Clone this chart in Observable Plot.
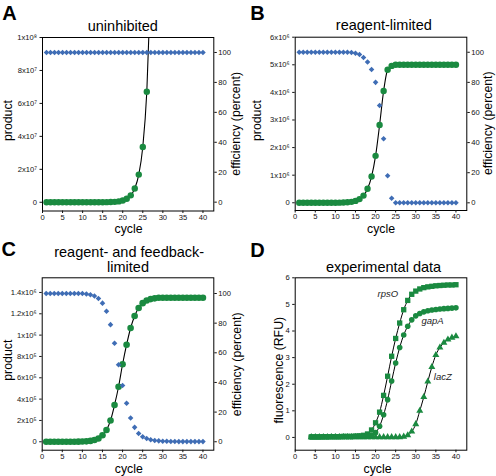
<!DOCTYPE html>
<html><head><meta charset="utf-8">
<script src="https://cdn.jsdelivr.net/npm/d3@7"></script>
<script src="https://cdn.jsdelivr.net/npm/@observablehq/plot@0.6"></script>
<style>
body{margin:0;background:#fff;}
#chart{position:relative;width:496px;height:476px;overflow:hidden;background:#fff;}
#chart svg{position:absolute;font-family:"Liberation Sans",Arial,Helvetica,sans-serif !important;}
</style></head><body><div id="chart"></div>
<script>
// ---------- data ----------
const cycles = [1,2,3,4,5,6,7,8,9,10,11,12,13,14,15,16,17,18,19,20,21,22,23,24,25,26,27,28,29,30,31,32,33,34,35,36,37,38,39,40];
const cyclesD = [4,5,6,7,8,9,10,11,12,13,14,15,16,17,18,19,20,21,22,23,24,25,26,27,28,29,30,31,32,33,34,35,36,37,38,39,40];
const xTicks = [0,5,10,15,20,25,30,35,40];
const effTicks = [0,20,40,60,80,100];

// A: uninhibited
const productA = [2,4,8,16,32,64,128,256,512,1024,2048,4096,8192,16384,32768,65536,131072,262144,524288,1048576,2097152,4194304,8388608,16777216,33554432,67108864];
const fitA = [2,4,8,16,32,64,128,256,512,1024,2048,4096,8192,16384,32768,65536,131072,262144,524288,1048576,2097152,4194304,8388608,16777216,33554432,67108864,134217728];
const efficiencyA = [100,100,100,100,100,100,100,100,100,100,100,100,100,100,100,100,100,100,100,100,100,100,100,100,100,100,100,100,100,100,100,100,100,100,100,100,100,100,100,100];
const ticksA = [0,2e7,4e7,6e7,8e7,1e8];
const tickLabelsA = ["0","2x10\u2077","4x10\u2077","6x10\u2077","8x10\u2077","1x10\u2078"];

// B: reagent-limited
const productB = [4,8,16,33,66,130,260,520,1050,2100,4200,8400,17000,34000,67000,134000,260000,510000,950000,1700000,2820000,4050000,4820000,4960000,5000000,5000000,5000000,5000000,5000000,5000000,5000000,5000000,5000000,5000000,5000000,5000000,5000000,5000000,5000000,5000000];
const efficiencyB = [100,100,100,100,100,100,100,100,100,100,100,100,100,99.8,99.3,98.5,96.5,93.5,88.5,80,64.7,42.5,18,3,0,0,0,0,0,0,0,0,0,0,0,0,0,0,0,0];
const ticksB = [0,1e6,2e6,3e6,4e6,5e6,6e6];
const tickLabelsB = ["0","1x10\u2076","2x10\u2076","3x10\u2076","4x10\u2076","5x10\u2076","6x10\u2076"];

// C: reagent- and feedback-limited
const productC = [4,8,16,31,62,125,250,500,1000,2000,4000,8000,16000,31000,61000,110000,200000,345000,516000,727000,910000,1067000,1180000,1255000,1300000,1325000,1338000,1345000,1350000,1350000,1350000,1350000,1350000,1350000,1350000,1350000,1350000,1350000,1350000,1350000];
const efficiencyC = [100,100,100,100,100,100,100,100,100,100,99.7,99.2,98.3,96.6,93.5,88,79,66.5,52,38,26,16,9.7,5.6,3.4,2.2,1.4,0.9,0.6,0.4,0.3,0.2,0.2,0.1,0.1,0.1,0.1,0.1,0.1,0.1];
const ticksC = [0,2e5,4e5,6e5,8e5,1e6,1.2e6,1.4e6];
const tickLabelsC = ["0","2x10\u2075","4x10\u2075","6x10\u2075","8x10\u2075","1x10\u2076","1.2x10\u2076","1.4x10\u2076"];

// D: experimental data
const rpsO = [0.02,0.02,0.02,0.03,0.03,0.03,0.03,0.03,0.04,0.04,0.04,0.05,0.06,0.08,0.13,0.28,0.55,0.95,1.58,2.3,3.05,3.72,4.3,4.8,5.15,5.38,5.5,5.58,5.63,5.66,5.68,5.7,5.71,5.72,5.73,5.73,5.74];
const gapA = [0.02,0.02,0.02,0.02,0.02,0.03,0.03,0.03,0.03,0.03,0.03,0.04,0.04,0.04,0.05,0.08,0.18,0.42,0.85,1.42,2.12,2.8,3.38,3.85,4.18,4.42,4.57,4.66,4.72,4.76,4.79,4.81,4.83,4.84,4.85,4.86,4.87];
const lacZ = [0.01,0.01,0.01,0.01,0.01,0.01,0.01,0.01,0.01,0.01,0.01,0.01,0.01,0.01,0.01,0.01,0.01,0.01,0.01,0.01,0.01,0.01,0.01,0.03,0.08,0.22,0.5,1.0,1.52,2.1,2.65,3.1,3.38,3.56,3.68,3.75,3.8];
const ticksD = [0,1,2,3,4,5,6];
const geneNames = ["rpsO","gapA","lacZ"];
const geneLabelCycle = [25.6,31.4,34.5];
const geneLabelValue = [5.4,4.37,2.27];

// ---------- drawing ----------
const chart = document.getElementById("chart");
const FONT = '"Liberation Sans", Arial, Helvetica, sans-serif';
const GREEN = "#1a8a40", BLUE = "#3f6db5";
const XDOM = [0, 42.7];

function place(svg, left, top) {
  svg.style.position = "absolute";
  svg.style.left = left + "px";
  svg.style.top = top + "px";
  chart.appendChild(svg);
}
function base(m, ydom, marks) {
  return Plot.plot({
    width: 248, height: 238,
    marginLeft: m.mL, marginRight: m.mR, marginTop: m.mT, marginBottom: m.mB,
    style: {background: "transparent", fontFamily: FONT, fontSize: "7.6px", color: "#111", overflow: "visible"},
    x: {domain: XDOM, axis: null},
    y: {domain: ydom, axis: null},
    marks
  });
}
function txt(str, px, py, m, o = {}) {
  return Plot.text([str], {text: d => d, frameAnchor: "top-left", dx: px - m.mL, dy: py - m.mT,
    fontSize: 12.3, lineAnchor: "middle", textAnchor: "middle", fill: "#000", fontFamily: FONT, ...o});
}
const zip = (xs, ys) => ys.map((v, i) => ({c: xs[i], v}));
function leftAxes(ticks, labels) {
  const map = new Map(ticks.map((t, i) => [t, labels[i]]));
  return [
    Plot.frame({stroke: "#000", strokeWidth: 1}),
    Plot.axisX({ticks: xTicks, tickSize: 2.5, tickPadding: 1, label: null, fontFamily: FONT}),
    Plot.axisY({ticks, tickFormat: d => map.get(d), tickSize: 2.5, tickPadding: 3, label: null, fontFamily: FONT})
  ];
}
function effPlot(m, ydom, eff) {
  return base(m, ydom, [
    Plot.axisY({anchor: "right", ticks: effTicks, tickSize: 2.5, tickPadding: 2, label: null, fontFamily: FONT}),
    Plot.dot(zip(cycles, eff), {x: "c", y: "v", symbol: "diamond2", r: 2.5, fill: BLUE, stroke: "none"})
  ]);
}

// Panel A
const mA = {mL: 42, mR: 34.7, mT: 37, mB: 27.5};
place(base(mA, [-5.3e6, 1e8], [
  ...leftAxes(ticksA, tickLabelsA),
  Plot.line(zip(cycles, fitA), {x: "c", y: "v", curve: "monotone-x", stroke: "#000", strokeWidth: 1.1, clip: true}),
  Plot.dot(zip(cycles, productA), {x: "c", y: "v", r: 3.2, fill: GREEN, stroke: "none"}),
  txt("A", 1.7, 13, mA, {fontSize: 20, fontWeight: "bold", textAnchor: "start"}),
  txt("uninhibited", 122.3, 25.4, mA, {fontSize: 14.5}),
  txt("product", 8, 120, mA, {rotate: -90}),
  txt("efficiency (percent)", 236, 123.3, mA, {rotate: -90}),
  txt("cycle", 128, 228.5, mA)
]), 0, 0);
place(effPlot(mA, [-5.9, 110], efficiencyA), 0, 0);

// Panel B
const mB = {mL: 46.7, mR: 29.7, mT: 36.7, mB: 28};
place(base(mB, [-0.28e6, 6e6], [
  ...leftAxes(ticksB, tickLabelsB),
  Plot.line(zip(cycles, productB), {x: "c", y: "v", curve: "monotone-x", stroke: "#000", strokeWidth: 1.1}),
  Plot.dot(zip(cycles, productB), {x: "c", y: "v", r: 3.2, fill: GREEN, stroke: "none"}),
  txt("B", 1.7, 12.8, mB, {fontSize: 20, fontWeight: "bold", textAnchor: "start"}),
  txt("reagent-limited", 135.3, 24.8, mB, {fontSize: 14.5}),
  txt("product", 9, 120, mB, {rotate: -90}),
  txt("efficiency (percent)", 239.5, 122.7, mB, {rotate: -90}),
  txt("cycle", 132.5, 228.5, mB)
]), 248, 0);
place(effPlot(mB, [-5.1, 110], efficiencyB), 248, 0);

// Panel C
const mC = {mL: 41.7, mR: 34.7, mT: 39.3, mB: 26.3};
place(base(mC, [-0.079e6, 1.5375e6], [
  ...leftAxes(ticksC, tickLabelsC),
  Plot.line(zip(cycles, productC), {x: "c", y: "v", curve: "monotone-x", stroke: "#000", strokeWidth: 1.1}),
  Plot.dot(zip(cycles, productC), {x: "c", y: "v", r: 3.3, fill: GREEN, stroke: "none"}),
  txt("C", 1, 11.2, mC, {fontSize: 20, fontWeight: "bold", textAnchor: "start"}),
  txt("reagent- and feedback-", 128.7, 13.7, mC, {fontSize: 14.5}),
  txt("limited", 127.5, 28.8, mC, {fontSize: 14.5}),
  txt("product", 8, 121.7, mC, {rotate: -90}),
  txt("efficiency (percent)", 237, 125.8, mC, {rotate: -90}),
  txt("cycle", 128.3, 230.4, mC)
]), 0, 238);
place(effPlot(mC, [-5.7, 110.6], efficiencyC), 0, 238);

// Panel D
const mD = {mL: 46.7, mR: 29.7, mT: 39.3, mB: 26.3};
place(base(mD, [-0.48, 6], [
  ...leftAxes(ticksD, ticksD.map(String)),
  Plot.line(zip(cyclesD, rpsO), {x: "c", y: "v", curve: "monotone-x", stroke: "#000", strokeWidth: 1}),
  Plot.line(zip(cyclesD, gapA), {x: "c", y: "v", curve: "monotone-x", stroke: "#000", strokeWidth: 1}),
  Plot.line(zip(cyclesD, lacZ), {x: "c", y: "v", curve: "monotone-x", stroke: "#000", strokeWidth: 1}),
  Plot.dot(zip(cyclesD, lacZ), {x: "c", y: "v", symbol: "triangle", r: 2.6, fill: GREEN, stroke: "none"}),
  Plot.dot(zip(cyclesD, gapA), {x: "c", y: "v", symbol: "circle", r: 2.8, fill: GREEN, stroke: "none"}),
  Plot.dot(zip(cyclesD, rpsO), {x: "c", y: "v", symbol: "square", r: 3.0, fill: GREEN, stroke: "none"}),
  Plot.text([0], {x: i => geneLabelCycle[i], y: i => geneLabelValue[i], text: i => geneNames[i], textAnchor: "end", fontStyle: "italic", fontSize: 9.5, fill: "#222", fontFamily: FONT}),
  Plot.text([1, 2], {x: i => geneLabelCycle[i], y: i => geneLabelValue[i], text: i => geneNames[i], textAnchor: "start", fontStyle: "italic", fontSize: 9.5, fill: "#222", fontFamily: FONT}),
  txt("D", 1.7, 11.7, mD, {fontSize: 20, fontWeight: "bold", textAnchor: "start"}),
  txt("experimental data", 135, 28.7, mD, {fontSize: 14.5}),
  txt("fluorescence (RFU)", 30.5, 131.7, mD, {rotate: -90}),
  txt("cycle", 129, 230.4, mD)
]), 248, 238);
</script></body></html>
